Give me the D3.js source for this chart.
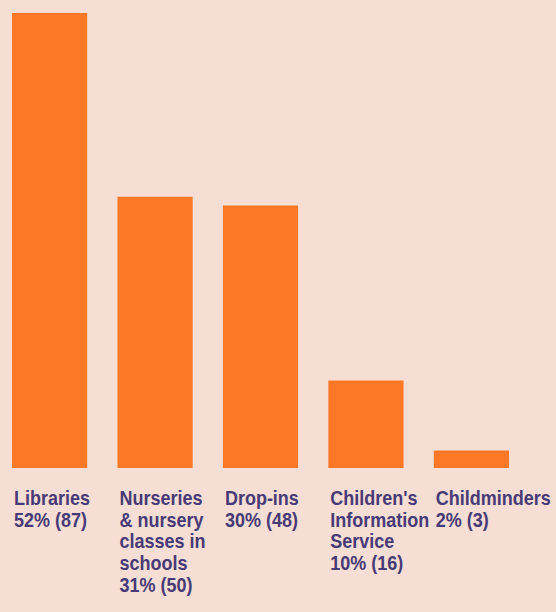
<!DOCTYPE html>
<html>
<head>
<meta charset="utf-8">
<script src="https://cdn.jsdelivr.net/npm/d3@7"></script>
<style>
  html, body { margin: 0; padding: 0; background: #f7ded4; }
  svg { display: block; }
  .lbl { font-family: "Liberation Sans", Arial, sans-serif; font-weight: bold; font-size: 20px; fill: #483a76; }
</style>
</head>
<body>
<svg width="556" height="612"></svg>
<script>
// chart values
var categories = ["Libraries", "Nurseries", "Drop-ins", "Children's Information Service", "Childminders"];
var labelLines = [
  ["Libraries"],
  ["Nurseries", "& nursery", "classes in", "schools"],
  ["Drop-ins"],
  ["Children's", "Information", "Service"],
  ["Childminders"]
];
var percents = [52, 31, 30, 10, 2];
var counts = [87, 50, 48, 16, 3];

var data = categories.map(function(c, i) {
  return { cat: c, pct: percents[i], n: counts[i], lines: labelLines[i].concat([percents[i] + "% (" + counts[i] + ")"]) };
});

var svg = d3.select("svg");
var baseline = 468;

var x = d3.scaleBand()
  .domain(categories)
  .range([12, 509])
  .paddingInner(0.287)
  .paddingOuter(0);

var y = d3.scaleLinear()
  .domain([0, d3.max(percents)])
  .range([baseline, 13]);

svg.append("g")
  .selectAll("rect")
  .data(data)
  .enter()
  .append("rect")
  .attr("x", function(d) { return x(d.cat); })
  .attr("y", function(d) { return y(d.pct); })
  .attr("width", x.bandwidth())
  .attr("height", function(d) { return baseline - y(d.pct); })
  .attr("fill", "#fc7826");

// labels under each bar, squeezed horizontally to look condensed
var lineH = 21.7;
var firstY = 505;
var labels = svg.append("g")
  .selectAll("text")
  .data(data)
  .enter()
  .append("text")
  .attr("class", "lbl")
  .attr("transform", function(d) {
    return "translate(" + (x(d.cat) + 2) + "," + firstY + ") scale(0.9,1)";
  });

labels.selectAll("tspan")
  .data(function(d) { return d.lines; })
  .enter()
  .append("tspan")
  .attr("x", 0)
  .attr("y", function(d, i) { return i * lineH; })
  .text(function(d) { return d; });
</script>
</body>
</html>
